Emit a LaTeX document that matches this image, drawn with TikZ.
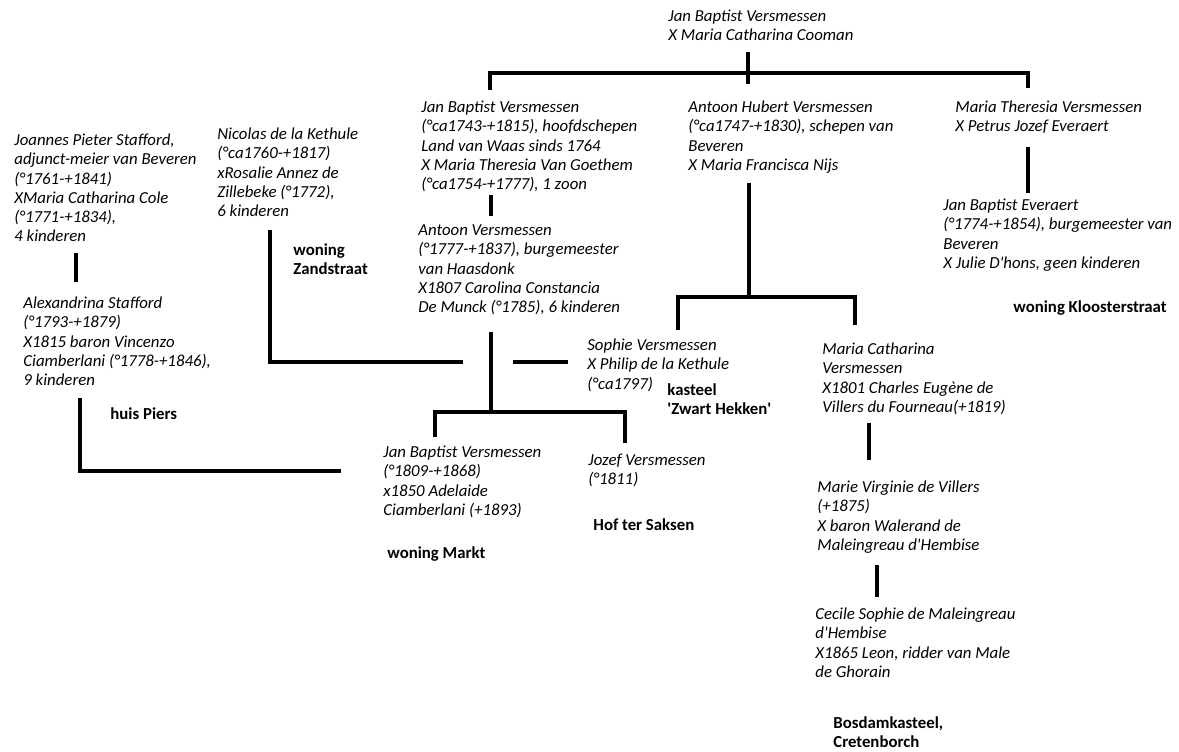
\documentclass[tikz,border=0pt]{standalone}
\usepackage{fontspec}
\setmainfont{Carlito}
\begin{document}
\begin{tikzpicture}[x = 0.5pt, y = -0.5pt,
  person/.style = {anchor = north west, inner sep = 0pt, align = left,
    font = \fontsize{8.4}{9.65}\selectfont\itshape, execute at begin node = \strut, yshift = 5.8pt},
  house/.style = {person, font = \fontsize{8.4}{9.65}\selectfont\bfseries},
  tie/.style = {line width = 2pt}]
\useasboundingbox (0, 0) rectangle (1179, 751);
\node[person] (root) at (668, 21) {Jan Baptist Versmessen\\X Maria Catharina Cooman};
\node[person] (jbv) at (421, 112) {Jan Baptist Versmessen\\(°ca1743-+1815), hoofdschepen\\Land van Waas sinds 1764\\X Maria Theresia Van Goethem\\(°ca1754-+1777), 1 zoon};
\node[person] (ahv) at (688, 112) {Antoon Hubert Versmessen\\(°ca1747-+1830), schepen van\\Beveren\\X Maria Francisca Nijs};
\node[person] (mtv) at (955, 112) {Maria Theresia Versmessen\\X Petrus Jozef Everaert};
\node[person] (jbe) at (943, 210) {Jan Baptist Everaert\\(°1774-+1854), burgemeester van\\Beveren\\X Julie D\textquotesingle hons, geen kinderen};
\node[house] (kloost) at (1013, 310) {woning Kloosterstraat};
\node[person] (jps) at (14, 145) {Joannes Pieter Stafford,\\adjunct-meier van Beveren\\(°1761-+1841)\\XMaria Catharina Cole\\(°1771-+1834),\\4 kinderen};
\node[person] (ndk) at (217, 139) {Nicolas de la Kethule\\(°ca1760-+1817)\\xRosalie Annez de\\Zillebeke (°1772),\\6 kinderen};
\node[house] (zand) at (293, 255) {woning\\Zandstraat};
\node[person] (alex) at (23, 308) {Alexandrina Stafford\\(°1793-+1879)\\X1815 baron Vincenzo\\Ciamberlani (°1778-+1846),\\9 kinderen};
\node[house] (piers) at (110, 417) {huis Piers};
\node[person] (av) at (418, 236) {Antoon Versmessen\\(°1777-+1837), burgemeester\\van Haasdonk\\X1807 Carolina Constancia\\De Munck (°1785), 6 kinderen};
\node[person] (sophie) at (587, 350) {Sophie Versmessen\\X Philip de la Kethule\\(°ca1797)};
\node[house] (zwart) at (667, 395) {kasteel\\\textquotesingle Zwart Hekken\textquotesingle};
\node[person] (mcv) at (822, 354) {Maria Catharina\\Versmessen\\X1801 Charles Eugène de\\Villers du Fourneau(+1819)};
\node[person] (mvv) at (817, 492) {Marie Virginie de Villers\\(+1875)\\X baron Walerand de\\Maleingreau d\textquotesingle Hembise};
\node[person] (cecile) at (815, 619) {Cecile Sophie de Maleingreau\\d\textquotesingle Hembise\\X1865 Leon, ridder van Male\\de Ghorain};
\node[house] (bosdam) at (833, 728) {Bosdamkasteel,\\Cretenborch};
\node[person] (jbv2) at (383, 457) {Jan Baptist Versmessen\\(°1809-+1868)\\x1850 Adelaide\\Ciamberlani (+1893)};
\node[person] (jozef) at (588, 465) {Jozef Versmessen\\(°1811)};
\node[house] (hof) at (593, 528) {Hof ter Saksen};
\node[house] (markt) at (387, 556) {woning Markt};
\coordinate (rootT) at (748, 52);
\coordinate (rootB) at (748, 84);
\coordinate (jbvT) at (490, 90);
\coordinate (barR) at (1028, 73);
\coordinate (mtvT) at (1028, 88);
\coordinate (mtvB) at (1028, 147);
\coordinate (jbeT) at (1028, 193);
\coordinate (jbvB) at (491, 195);
\coordinate (avT) at (491, 216);
\coordinate (ahvB) at (749, 183);
\coordinate (ahvK) at (749, 297);
\coordinate (sophieT) at (678, 330);
\coordinate (mcvT) at (855, 325);
\coordinate (avB) at (491, 332);
\coordinate (avK) at (491, 412);
\coordinate (jbv2T) at (435, 437);
\coordinate (jozefT) at (625, 443);
\coordinate (ndkB) at (270, 230);
\coordinate (ndkE) at (463, 362);
\coordinate (sophieW) at (568, 362);
\coordinate (sophieL) at (513, 362);
\coordinate (jpsB) at (76, 253);
\coordinate (alexT) at (76, 282);
\coordinate (alexB) at (80, 398);
\coordinate (jbv2W) at (341, 471);
\coordinate (mcvB) at (869, 423);
\coordinate (mvvT) at (869, 460);
\coordinate (mvvB) at (877, 565);
\coordinate (cecileT) at (877, 597);
\draw[tie] (rootT) -- (rootB);
\draw[tie] (jbvT) |- (barR) -- (mtvT);
\draw[tie] (mtvB) -- (jbeT);
\draw[tie] (jbvB) -- (avT);
\draw[tie] (ahvB) -- (ahvK);
\draw[tie] (sophieT) |- (ahvK) -| (mcvT);
\draw[tie] (avB) -- (avK);
\draw[tie] (jbv2T) |- (avK) -| (jozefT);
\draw[tie] (ndkB) |- (ndkE);
\draw[tie] (sophieL) -- (sophieW);
\draw[tie] (jpsB) -- (alexT);
\draw[tie] (alexB) |- (jbv2W);
\draw[tie] (mcvB) -- (mvvT);
\draw[tie] (mvvB) -- (cecileT);
\end{tikzpicture}
\end{document}
